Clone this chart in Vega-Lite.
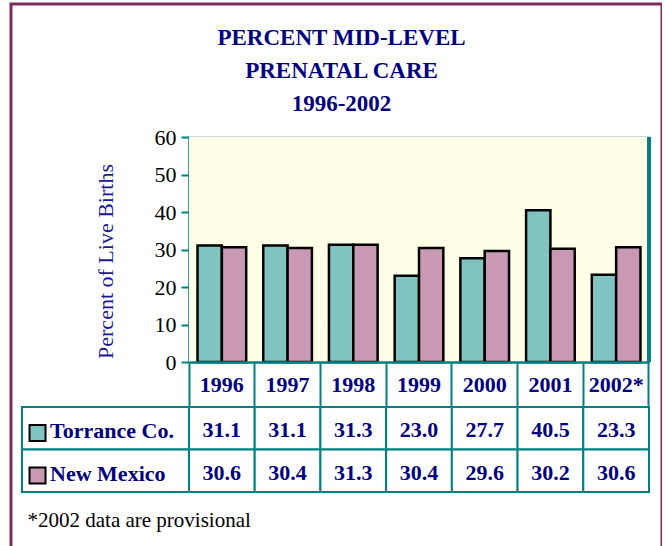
{
  "$schema": "https://vega.github.io/schema/vega-lite/v6.json",
  "width": 651,
  "height": 560,
  "autosize": {"type": "none"},
  "padding": {"left": 11, "top": 4, "right": 0, "bottom": 0},
  "background": "white",
  "title": {
    "text": ["PERCENT MID-LEVEL", "PRENATAL CARE", "1996-2002"],
    "anchor": "middle",
    "frame": "group",
    "font": "Liberation Serif",
    "fontSize": 23,
    "fontWeight": "bold",
    "color": "#000080",
    "lineHeight": 33,
    "baseline": "top",
    "offset": 0,
    "dy": 112,
    "dx": 5
  },
  "datasets": {
    "bars": [
      {"year": "1996", "series": "Torrance Co.", "value": 31.1},
      {"year": "1996", "series": "New Mexico", "value": 30.6},
      {"year": "1997", "series": "Torrance Co.", "value": 31.1},
      {"year": "1997", "series": "New Mexico", "value": 30.4},
      {"year": "1998", "series": "Torrance Co.", "value": 31.3},
      {"year": "1998", "series": "New Mexico", "value": 31.3},
      {"year": "1999", "series": "Torrance Co.", "value": 23.0},
      {"year": "1999", "series": "New Mexico", "value": 30.4},
      {"year": "2000", "series": "Torrance Co.", "value": 27.7},
      {"year": "2000", "series": "New Mexico", "value": 29.6},
      {"year": "2001", "series": "Torrance Co.", "value": 40.5},
      {"year": "2001", "series": "New Mexico", "value": 30.2},
      {"year": "2002*", "series": "Torrance Co.", "value": 23.3},
      {"year": "2002*", "series": "New Mexico", "value": 30.6}
    ],
    "rows": [
      {"series": "Torrance Co."},
      {"series": "New Mexico"}
    ]
  },
  "resolve": {"scale": {"x": "independent", "y": "independent"}},
  "layer": [
    {
      "data": {"name": "bars"},
      "layer": [
        {
          "mark": {"type": "rect", "fill": "#fffee6"},
          "encoding": {
            "x": {
              "field": "year", "type": "nominal",
              "scale": {"domain": ["1996", "1997", "1998", "1999", "2000", "2001", "2002*"], "range": [178, 638], "paddingInner": 0, "paddingOuter": 0},
              "axis": {
                "orient": "bottom", "offset": -202, "bandPosition": 1, "tickExtra": true,
                "domainColor": "#008080", "domainWidth": 2.5,
                "tickColor": "#008080", "tickWidth": 2, "tickSize": 45,
                "labelFont": "Liberation Serif", "labelFontSize": 22, "labelFontWeight": "bold", "labelColor": "#000080",
                "labelBaseline": "middle", "labelPadding": -23, "labelAngle": 0,
                "title": null,
                "grid": false
              }
            },
            "y": {
              "datum": 60, "type": "quantitative",
              "scale": {"domain": [0, 60], "range": [358, 133], "nice": false, "zero": true},
              "axis": {
                "orient": "left", "offset": -178, "values": [0, 10, 20, 30, 40, 50, 60],
                "domainColor": "#008080", "domainWidth": 2.5,
                "tickColor": "#008080", "tickWidth": 2, "tickSize": 8,
                "grid": true, "gridColor": "#008080", "gridWidth": 1.5,
                "labelFont": "Liberation Serif", "labelFontSize": 22, "labelColor": "black", "labelPadding": 5,
                "title": "Percent of Live Births",
                "titleFont": "Liberation Serif", "titleFontSize": 22, "titleFontWeight": "normal", "titleColor": "#1a1a90",
                "titleX": -84, "titleY": 257, "titleAngle": 270, "titleBaseline": "middle", "titleAlign": "center"
              }
            },
            "y2": {"datum": 0}
          }
        },
        {
          "mark": {"type": "rule", "color": "#008080", "strokeWidth": 2.5},
          "encoding": {
            "x": {"datum": "2002*", "type": "nominal", "bandPosition": 1},
            "y": {"datum": 60, "type": "quantitative"},
            "y2": {"datum": 0}
          }
        },
        {
          "mark": {"type": "bar", "stroke": "black", "strokeWidth": 2.5},
          "encoding": {
            "x": {"field": "year", "type": "nominal"},
            "xOffset": {
              "field": "series", "type": "nominal",
              "scale": {"domain": ["Torrance Co.", "New Mexico"], "paddingInner": 0, "paddingOuter": 0.35}
            },
            "y": {"field": "value", "type": "quantitative"},
            "color": {
              "field": "series", "type": "nominal",
              "scale": {"domain": ["Torrance Co.", "New Mexico"], "range": ["#80c4c2", "#c998b2"]},
              "legend": null
            }
          }
        }
      ]
    },
    {
      "data": {"name": "bars"},
      "layer": [
        {
          "mark": {"type": "rect", "fill": "white", "stroke": "#008080", "strokeWidth": 2},
          "encoding": {
            "x": {
              "field": "year", "type": "nominal",
              "scale": {"domain": ["1996", "1997", "1998", "1999", "2000", "2001", "2002*"], "range": [178, 638], "paddingInner": 0, "paddingOuter": 0},
              "axis": null
            },
            "y": {
              "field": "series", "type": "nominal",
              "scale": {"domain": ["Torrance Co.", "New Mexico"], "range": [403, 488], "paddingInner": 0, "paddingOuter": 0},
              "axis": null
            }
          }
        },
        {
          "mark": {"type": "text", "font": "Liberation Serif", "fontSize": 22, "fontWeight": "bold", "fill": "#000080", "baseline": "middle", "align": "center"},
          "encoding": {
            "x": {"field": "year", "type": "nominal"},
            "y": {"field": "series", "type": "nominal", "bandPosition": 0.55},
            "text": {"field": "value", "type": "quantitative", "format": ".1f"}
          }
        }
      ]
    },
    {
      "data": {"name": "rows"},
      "layer": [
        {
          "mark": {"type": "rect", "fill": "white", "stroke": "#008080", "strokeWidth": 2},
          "encoding": {
            "x": {
              "datum": "label", "type": "nominal",
              "scale": {"domain": ["label"], "range": [11, 178], "paddingInner": 0, "paddingOuter": 0},
              "axis": {
                "orient": "bottom", "offset": 0, "labels": false, "ticks": false, "domain": false, "grid": false,
                "title": "*2002 data are provisional",
                "titleFont": "Liberation Serif", "titleFontSize": 21, "titleFontWeight": "normal", "titleColor": "black",
                "titleX": 16, "titleY": -44, "titleAlign": "left", "titleBaseline": "middle", "titleAnchor": "start"
              }
            },
            "y": {
              "field": "series", "type": "nominal",
              "scale": {"domain": ["Torrance Co.", "New Mexico"], "range": [403, 488], "paddingInner": 0, "paddingOuter": 0},
              "axis": null
            }
          }
        },
        {
          "mark": {"type": "point", "shape": "square", "size": 256, "filled": true, "stroke": "black", "strokeWidth": 2, "opacity": 1},
          "encoding": {
            "x": {"datum": "label", "type": "nominal", "bandPosition": 0.093},
            "y": {"field": "series", "type": "nominal", "bandPosition": 0.61},
            "color": {"field": "series", "type": "nominal", "legend": null}
          }
        },
        {
          "mark": {"type": "text", "font": "Liberation Serif", "fontSize": 22, "fontWeight": "bold", "fill": "#000080", "baseline": "middle", "align": "left"},
          "encoding": {
            "x": {"datum": "label", "type": "nominal", "bandPosition": 0.168},
            "y": {"field": "series", "type": "nominal", "bandPosition": 0.57},
            "text": {"field": "series", "type": "nominal"}
          }
        }
      ]
    }
  ],
  "config": {
    "view": {"stroke": "#7e2c5d", "strokeWidth": 3, "fill": "white"}
  }
}
